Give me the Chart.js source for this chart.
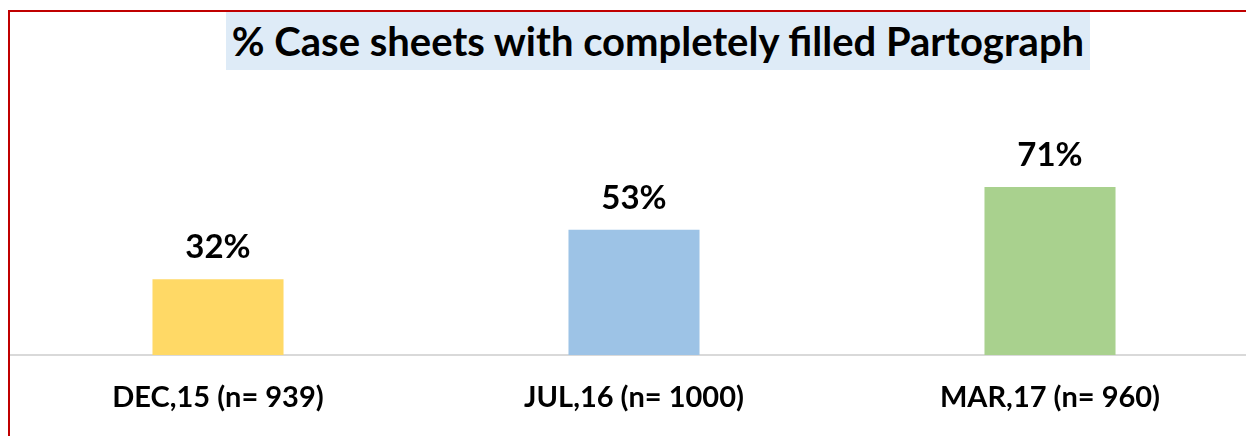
<!DOCTYPE html>
<html>
<head>
<meta charset="utf-8">
<script src="https://cdn.jsdelivr.net/npm/chart.js@4"></script>
<style>
  html, body { margin: 0; padding: 0; background: #fff; overflow: hidden; }
  body { width: 1246px; height: 436px; position: relative; }
  .frame { position: absolute; left: 8px; top: 10px; width: 1300px; height: 500px;
           border-left: 2px solid #C00000; border-top: 2px solid #C00000; }
  .title { position: absolute; left: 226px; top: 12px; width: 864px; height: 58px;
           background: #DEEBF7; font-family: Lato, sans-serif; font-weight: bold;
           font-size: 40px; line-height: 58px; text-align: center; color: #000; white-space: nowrap; }
  #chart { position: absolute; left: 10px; top: 0; }
</style>
</head>
<body>
<div class="frame"></div>
<div class="title">% Case sheets with completely filled Partograph</div>
<canvas id="chart" width="1248" height="436"></canvas>
<script>
const categories = ["DEC,15 (n= 939)", "JUL,16 (n= 1000)", "MAR,17 (n= 960)"]
const percentFilled = [32, 53, 71]
const barColors = ["#FFD966", "#9DC3E6", "#A9D18E"]

const valueLabels = {
    id: "valueLabels",
    afterDatasetsDraw(chart){
        const ctx = chart.ctx
        const meta = chart.getDatasetMeta(0)
        ctx.save()
        ctx.font = "bold 33px Lato, sans-serif"
        ctx.fillStyle = "#000"
        ctx.textAlign = "center"
        ctx.textBaseline = "alphabetic"
        meta.data.forEach((bar, i) => {
            ctx.fillText(percentFilled[i] + "%", bar.x, bar.y - 21)
        })
        ctx.restore()
    }
}

new Chart(document.getElementById("chart"), {
    type: "bar",
    data: {
        labels: categories,
        datasets: [{
            data: percentFilled,
            backgroundColor: barColors,
            borderWidth: 0,
            categoryPercentage: 1,
            barPercentage: 0.315
        }]
    },
    options: {
        responsive: false,
        animation: false,
        layout: { padding: { top: 118.5, bottom: 0, left: 0, right: 0 } },
        plugins: { legend: { display: false }, tooltip: { enabled: false } },
        scales: {
            x: {
                grid: { display: false },
                border: { display: true, color: "#D9D9D9", width: 2 },
                afterFit(scale){ scale.height = 81 },
                ticks: {
                    color: "#000",
                    padding: 17,
                    maxRotation: 0,
                    font: { family: "Lato, sans-serif", weight: "bold", size: 29 }
                }
            },
            y: { display: false, min: 0, max: 100 }
        }
    },
    plugins: [valueLabels]
})
</script>
</body>
</html>
